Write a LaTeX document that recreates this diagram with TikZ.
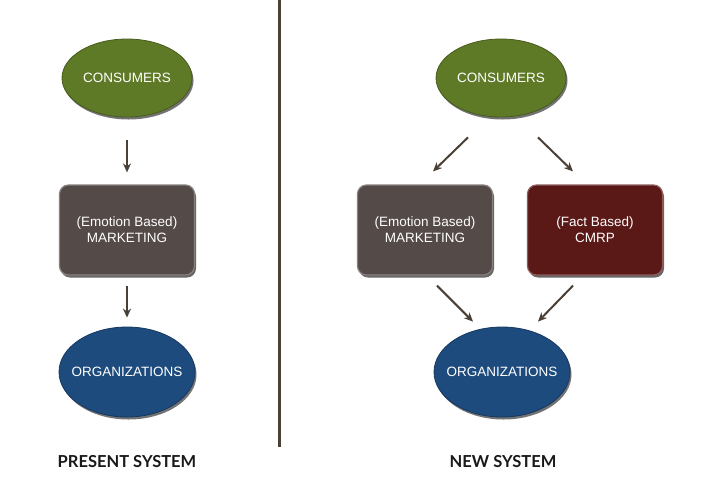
\documentclass[tikz,border=0pt]{standalone}
\usepackage{fontspec}
\setmainfont{Liberation Sans}
\newfontfamily\capfont{Lato}
\usepackage{xcolor}
\usepackage{tikz}
\usetikzlibrary{shapes,arrows.meta,positioning,calc,shadows}

\definecolor{oliveg}{HTML}{5F7A27}
\definecolor{slateb}{HTML}{544A48}
\definecolor{wine}{HTML}{5A1816}
\definecolor{navy}{HTML}{1D4B7D}
\definecolor{arrowc}{HTML}{4B4035}

\begin{document}
\begin{tikzpicture}[x=1pt,y=-1pt,
  oval/.style={ellipse, fill=#1, draw=#1!75!black, line width=0.8pt, text=white,
    font=\fontsize{13.5}{16}\selectfont, inner xsep=-30pt, inner ysep=0pt,
    drop shadow={shadow xshift=1.5pt, shadow yshift=-2.5pt, opacity=0.55, fill=black}},
  box/.style={rectangle, rounded corners=9pt, fill=#1, draw=#1!70!white, line width=1.2pt,
    text=white, align=center, font=\fontsize{13.5}{16}\selectfont,
    minimum width=135pt, minimum height=90pt,
    drop shadow={shadow xshift=1.5pt, shadow yshift=-2.5pt, opacity=0.6, fill=black}},
  arr/.style={draw=arrowc, line width=2pt, -{Stealth[length=9pt,width=8pt]}},
  syslabel/.style={font=\capfont\bfseries\fontsize{16.5}{20}\selectfont, text=black!90}]
\useasboundingbox (0,0) rectangle (701,480);

% present system
\node[oval=oliveg, minimum width=130pt, minimum height=78pt] (c1) at (127,78) {CONSUMERS};
\node[box=slateb] (m1) at (127,230) {(Emotion Based)\\MARKETING};
\node[oval=navy, minimum width=136pt, minimum height=90pt] (o1) at (127,372) {ORGANIZATIONS};
\draw[arr] ([yshift=-23pt]c1.south) -- ([yshift=12pt]m1.north);
\draw[arr] ([yshift=-10pt]m1.south) -- ([yshift=9pt]o1.north);

% divider
\draw[arrowc, line width=3pt] (279,0) -- (279,447);

% new system
\node[oval=oliveg, minimum width=130pt, minimum height=78pt] (c2) at (501,78) {CONSUMERS};
\node[box=slateb] (m2) at (425,230) {(Emotion Based)\\MARKETING};
\node[box=wine] (f2) at (595,230) {(Fact Based)\\CMRP};
\node[oval=navy, minimum width=136pt, minimum height=90pt] (o2) at (502,372) {ORGANIZATIONS};
\draw[arr] ([xshift=-33pt,yshift=-20pt]c2.south) -- ([xshift=8pt,yshift=13pt]m2.north);
\draw[arr] ([xshift=37pt,yshift=-20pt]c2.south) -- ([xshift=-22pt,yshift=13pt]f2.north);
\draw[arr] ([xshift=12pt,yshift=-10pt]m2.south) -- ([xshift=-29pt,yshift=5pt]o2.north);
\draw[arr] ([xshift=-22pt,yshift=-10pt]f2.south) -- ([xshift=36pt,yshift=5pt]o2.north);

\node[syslabel] (ps) at (127,462) {PRESENT SYSTEM};
\node[syslabel] (ns) at (503,462) {NEW SYSTEM};
\end{tikzpicture}
\end{document}
